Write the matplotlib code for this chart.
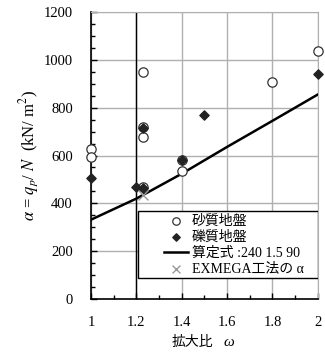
import matplotlib
matplotlib.use("Agg")
import matplotlib.pyplot as plt
from matplotlib.ticker import MultipleLocator
from matplotlib.patches import Rectangle

plt.rcParams['font.family'] = ['Liberation Serif', 'Noto Sans CJK JP']
plt.rcParams['mathtext.fontset'] = 'stix'

# 砂質地盤 (sand)
sand_w = [1.0, 1.0, 1.23, 1.23, 1.23, 1.23, 1.4, 1.4, 1.8, 2.0]
sand_a = [627, 595, 949, 720, 679, 468, 581, 536, 907, 1038]

# 礫質地盤 (gravel)
grav_w = [1.0, 1.2, 1.23, 1.23, 1.4, 1.5, 2.0]
grav_a = [507, 470, 716, 465, 581, 769, 940]

# 算定式 curve
calc_w = [1.0, 1.2, 1.4, 1.6, 1.8, 2.0]
calc_a = [332, 420, 524, 636, 745, 855]

# EXMEGA工法
ex_w = [1.23]
ex_a = [435]

fig = plt.figure(figsize=(3.25, 3.6), dpi=100)
ax = fig.add_axes([0.28, 0.169, 0.698, 0.798])

ax.set_xlim(1, 2)
ax.set_ylim(0, 1200)
ax.xaxis.set_major_locator(MultipleLocator(0.2))
ax.xaxis.set_minor_locator(MultipleLocator(0.1))
ax.yaxis.set_major_locator(MultipleLocator(200))
ax.yaxis.set_minor_locator(MultipleLocator(50))
ax.set_xticks([1, 1.2, 1.4, 1.6, 1.8, 2])
ax.set_xticklabels(['1', '1.2', '1.4', '1.6', '1.8', '2'])

ax.grid(True, which='major', color='#b0b0b0', linewidth=1.0)
ax.set_axisbelow(True)
ax.tick_params(which='both', direction='in', labelsize=10.5, color='black')
ax.tick_params(which='major', length=4, width=1)
ax.tick_params(which='minor', length=3, width=1)
ax.tick_params(axis='y', which='both', pad=13)
ax.tick_params(axis='x', which='both', pad=12)
for s in ['top', 'right']:
    ax.spines[s].set_color('#b0b0b0')
for s in ['left', 'bottom']:
    ax.spines[s].set_linewidth(1.2)

ax.axvline(1.2, color='black', linewidth=1.0, zorder=2)

ax.plot(calc_w, calc_a, color='black', linewidth=1.8, zorder=3, label='算定式 :240 1.5 90')
ax.scatter(sand_w, sand_a, s=45, facecolors='white', edgecolors='#333333', linewidths=0.9,
           zorder=4, clip_on=False, label='砂質地盤')
ax.scatter(grav_w, grav_a, s=22, marker='D', color='#222222', zorder=5, clip_on=False,
           label='礫質地盤')
ax.scatter(ex_w, ex_a, s=50, marker='x', color='#999999', linewidths=1.0, zorder=6,
           label='EXMEGA工法の α')

# legend box
ax.add_patch(Rectangle((0.207, 0.073), 0.793, 0.233, transform=ax.transAxes,
                       facecolor='white', edgecolor='black', linewidth=1.0, zorder=7))

h, l = ax.get_legend_handles_labels()
order = [1, 2, 0, 3]
leg = ax.legend([h[i] for i in order], [l[i] for i in order],
                loc='lower left', bbox_to_anchor=(0.322, 0.082),
                fontsize=10, frameon=False, borderpad=0, labelspacing=0.2,
                handlelength=1.7, handletextpad=0.3, borderaxespad=0, markerscale=0.8)
leg.set_zorder(8)

ax.set_ylabel('$\\alpha$ = $q_p$/ $N$  (kN/ m$^2$)', fontsize=12, labelpad=2)

# x label: 拡大比 + italic ω
fig.text(213 / 325, 1 - 342 / 360, '拡大比', fontsize=10, ha='right', va='center')
fig.text(224 / 325, 1 - 342 / 360, 'ω', fontsize=11, style='italic', ha='left', va='center')

fig.savefig('out.png', dpi=100)
